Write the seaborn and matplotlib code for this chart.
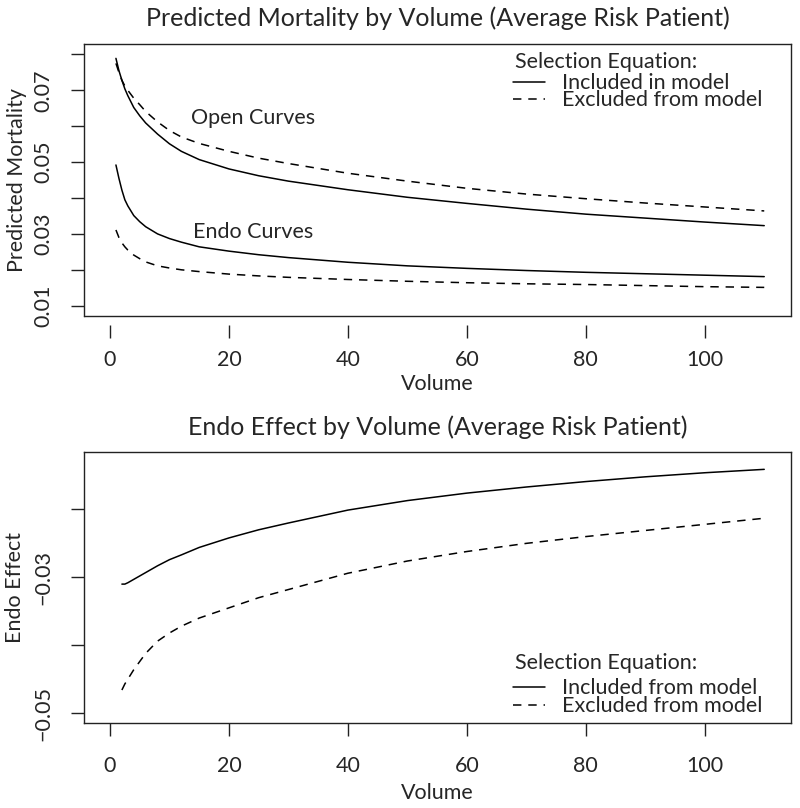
import numpy as np
import pandas as pd
import matplotlib
matplotlib.use("Agg")
import matplotlib.pyplot as plt
import seaborn as sns

volume = [1, 1.5, 2, 2.5, 3, 4, 5, 6, 8, 10, 12, 15, 20, 25, 30, 40, 50, 60, 70, 80, 90, 100, 110]

# predicted mortality, open repair
open_included = [0.0789, 0.0755, 0.0728, 0.0704, 0.0685, 0.0652, 0.0629, 0.0609, 0.0578, 0.0551,
                 0.0530, 0.0507, 0.0481, 0.0462, 0.0447, 0.0423, 0.0402, 0.0385, 0.0369, 0.0355,
                 0.0344, 0.0333, 0.0323]
open_excluded = [0.0775, 0.0750, 0.0728, 0.0712, 0.0700, 0.0678, 0.0660, 0.0641, 0.0612, 0.0588,
                 0.0570, 0.0552, 0.0530, 0.0511, 0.0496, 0.0469, 0.0447, 0.0427, 0.0411, 0.0398,
                 0.0386, 0.0375, 0.0364]
# predicted mortality, endo repair
endo_included = [0.0492, 0.0455, 0.0422, 0.0395, 0.0378, 0.0351, 0.0334, 0.0320, 0.0300, 0.0287,
                 0.0277, 0.0264, 0.0252, 0.0242, 0.0234, 0.0221, 0.0211, 0.0204, 0.0198, 0.0193,
                 0.0189, 0.0185, 0.0181]
endo_excluded = [0.0311, 0.0290, 0.0275, 0.0264, 0.0255, 0.0241, 0.0231, 0.0222, 0.0211, 0.0205,
                 0.0200, 0.0195, 0.0188, 0.0183, 0.0179, 0.0173, 0.0168, 0.0164, 0.0161, 0.0159,
                 0.0156, 0.0153, 0.0151]

# endo effect (starts at volume 2)
effect_volume = [2, 2.5, 3, 4, 5, 6, 8, 10, 12, 15, 20, 25, 30, 40, 50, 60, 70, 80, 90, 100, 110]
effect_included = [-0.0310, -0.0310, -0.0308, -0.0303, -0.0298, -0.0293, -0.0283, -0.0274, -0.0267,
                   -0.0256, -0.0242, -0.0230, -0.0220, -0.0201, -0.0187, -0.0176, -0.0167, -0.0159,
                   -0.0152, -0.0146, -0.0141]
effect_excluded = [-0.0466, -0.0457, -0.0450, -0.0436, -0.0424, -0.0412, -0.0394, -0.0382, -0.0372,
                   -0.0360, -0.0345, -0.0330, -0.0318, -0.0294, -0.0276, -0.0262, -0.0250, -0.0240,
                   -0.0231, -0.0222, -0.0213]

top_yticks = [0.01, 0.02, 0.03, 0.04, 0.05, 0.06, 0.07, 0.08]
top_yticklabels = ["0.01", "", "0.03", "", "0.05", "", "0.07", ""]
bot_yticks = [-0.05, -0.04, -0.03, -0.02]
bot_yticklabels = ["\u22120.05", "", "\u22120.03", ""]
xticks = [0, 20, 40, 60, 80, 100]

sns.set_theme(style="ticks")
plt.rcParams["font.family"] = ["Lato", "DejaVu Sans"]
FS = 15.5
FS_TITLE = 18
LW = 1.1
DASH = (0, (5.5, 4.5))

fig = plt.figure(figsize=(8, 8.08), dpi=100)
ax1 = fig.add_axes([84 / 800, 1 - 316 / 808, 707 / 800, 272 / 808])
ax2 = fig.add_axes([84 / 800, 1 - 723.3 / 808, 707 / 800, 271.6 / 808])

df_top = pd.DataFrame({"volume": volume, "open_inc": open_included, "open_exc": open_excluded,
                       "endo_inc": endo_included, "endo_exc": endo_excluded})
df_bot = pd.DataFrame({"volume": effect_volume, "inc": effect_included, "exc": effect_excluded})

sns.lineplot(data=df_top, x="volume", y="open_inc", ax=ax1, color="black", lw=LW)
sns.lineplot(data=df_top, x="volume", y="open_exc", ax=ax1, color="black", lw=LW, linestyle=DASH)
sns.lineplot(data=df_top, x="volume", y="endo_inc", ax=ax1, color="black", lw=LW)
sns.lineplot(data=df_top, x="volume", y="endo_exc", ax=ax1, color="black", lw=LW, linestyle=DASH)

sns.lineplot(data=df_bot, x="volume", y="inc", ax=ax2, color="black", lw=LW)
sns.lineplot(data=df_bot, x="volume", y="exc", ax=ax2, color="black", lw=LW, linestyle=DASH)

ax1.text(24, 0.0622, "Open Curves", ha="center", va="center", fontsize=FS)
ax1.text(24, 0.0306, "Endo Curves", ha="center", va="center", fontsize=FS)

ax1.set_xlim(-4.37, 114.5)
ax1.set_ylim(0.00713, 0.0829)
ax2.set_xlim(-4.37, 114.5)
ax2.set_ylim(-0.0515, -0.0115)

ax1.set_yticks(top_yticks)
ax1.set_yticklabels(top_yticklabels, rotation=90, va="center")
ax2.set_yticks(bot_yticks)
ax2.set_yticklabels(bot_yticklabels, rotation=90, va="center")
for ax in (ax1, ax2):
    ax.set_xticks(xticks)
    ax.set_xticklabels([str(t) for t in xticks])
    for s in ax.spines.values():
        s.set_color("#222222")
        s.set_linewidth(1.0)
        s.set_visible(True)
    ax.tick_params(axis="both", length=9.4, width=1.0, color="#222222", labelsize=FS)
    ax.tick_params(axis="y", pad=12.7)
    ax.set_xlabel("Volume", fontsize=FS)

ax2.tick_params(axis="x", pad=14.4)

# top panel: x ticks sit a little below the box
ax1.spines["bottom"].set_position(("outward", 6.5))
ax1.spines["bottom"].set_visible(False)
ax1.plot([0, 1], [0, 0], transform=ax1.transAxes, color="#222222", lw=1.0, clip_on=False)
ax1.tick_params(axis="x", pad=8.6)

ax1.set_ylabel("Predicted Mortality", fontsize=FS)
ax2.set_ylabel("Endo Effect", fontsize=FS)
ax1.yaxis.set_label_coords(-0.081, 0.5)
ax2.yaxis.set_label_coords(-0.0835, 0.5)
ax1.xaxis.set_label_coords(0.5, -0.213)
ax2.xaxis.set_label_coords(0.5, -0.22)

ax1.set_title("Predicted Mortality by Volume (Average Risk Patient)", fontsize=FS_TITLE, pad=13)
ax2.set_title("Endo Effect by Volume (Average Risk Patient)", fontsize=FS_TITLE, pad=12)


def draw_key(ax, y_title, y_items, labels):
    ax.text(0.6096, y_title, "Selection Equation:", transform=ax.transAxes,
            ha="left", va="center", fontsize=FS)
    styles = ["-", DASH]
    for yy, lab, ls in zip(y_items, labels, styles):
        ax.plot([0.6068, 0.6520], [yy + 0.004, yy + 0.004], transform=ax.transAxes,
                color="black", lw=LW, linestyle=ls)
        ax.text(0.6761, yy, lab, transform=ax.transAxes, ha="left", va="center", fontsize=FS)


draw_key(ax1, 0.9349, [0.8555, 0.7941], ["Included in model", "Excluded from model"])
draw_key(ax2, 0.2209, [0.1289, 0.0637], ["Included from model", "Excluded from model"])

fig.savefig("out.png", dpi=100)
